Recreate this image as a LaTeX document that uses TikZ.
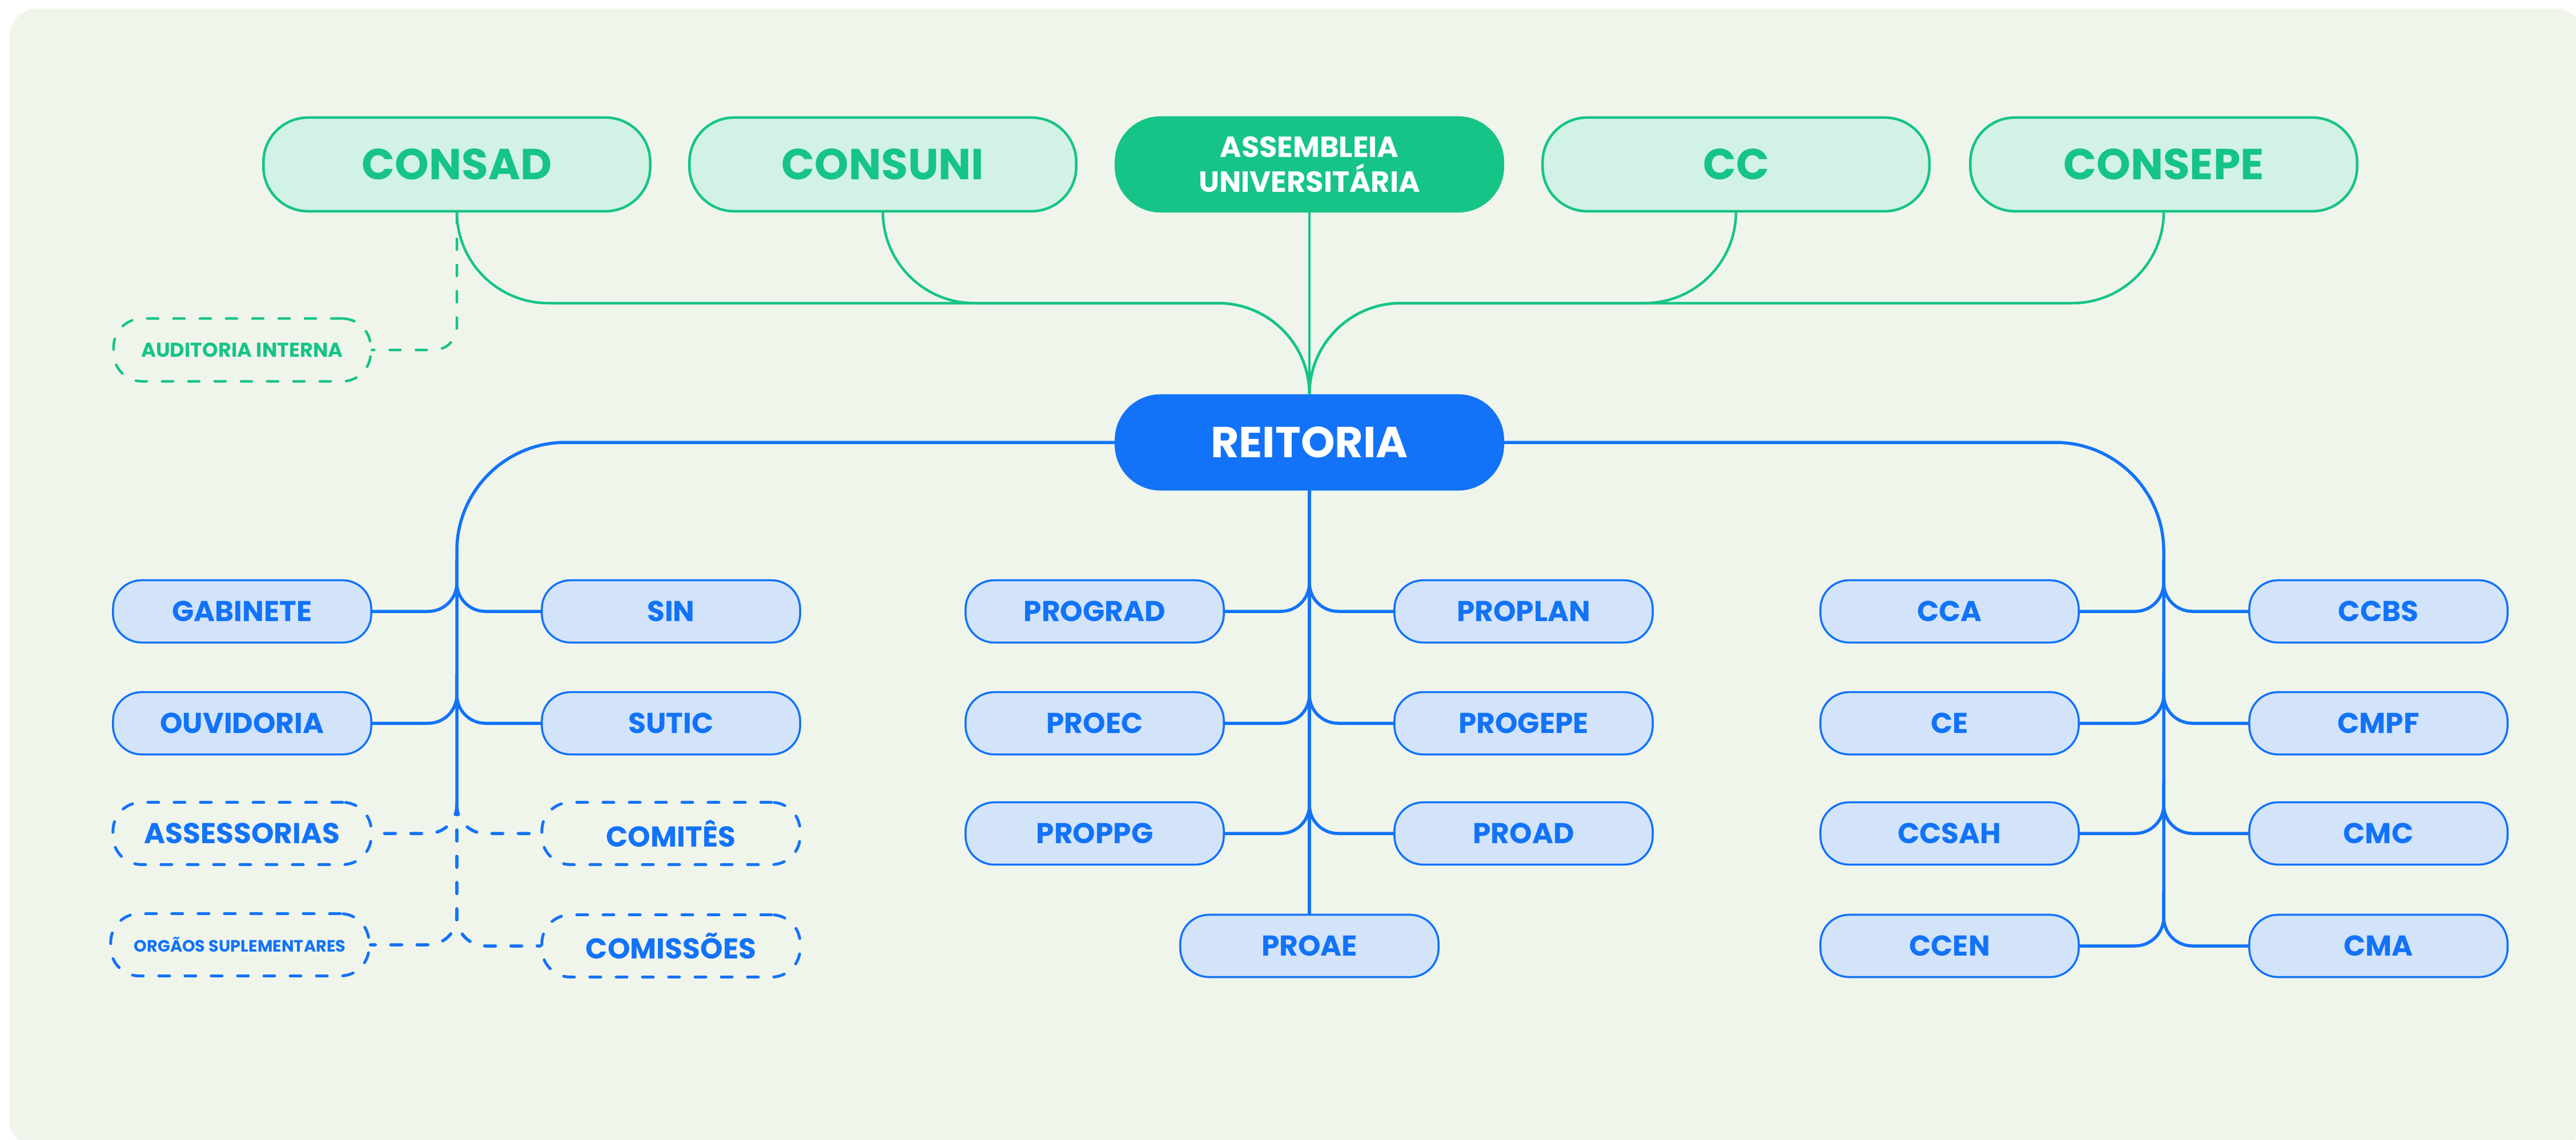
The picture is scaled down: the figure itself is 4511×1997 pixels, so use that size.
\documentclass[tikz,border=0pt]{standalone}
\usepackage{fontspec}
\setmainfont{Poppins}
\definecolor{bgc}{HTML}{F0F5EC}
\definecolor{gmain}{HTML}{16C487}
\definecolor{glight}{HTML}{D1F2E5}
\definecolor{bmain}{HTML}{1273F8}
\definecolor{blight}{HTML}{D2E3FA}
\tikzset{
  topbox/.style={draw=gmain, line width=0.045cm, fill=glight, text=gmain,
    minimum width=6.77cm, minimum height=1.64cm, rounded corners=0.78cm, inner sep=0pt,
    font=\bfseries\fontsize{21.6}{26}\selectfont},
  bbox/.style={draw=bmain, line width=0.035cm, fill=blight, text=bmain,
    minimum width=4.52cm, minimum height=1.09cm, rounded corners=0.5cm, inner sep=0pt,
    font=\bfseries\fontsize{14.3}{17}\selectfont},
  dashpat/.style={dash pattern=on 0.19cm off 0.27cm, line cap=round},
  bdbox/.style={bbox, fill=none, dashpat, line width=0.05cm},
  gline/.style={draw=gmain, line width=0.045cm},
  bline/.style={draw=bmain, line width=0.055cm},
}
\begin{document}
\begin{tikzpicture}[x=0.01cm, y=-0.01cm]
\useasboundingbox (0,0) rectangle (4511,1997);
\fill[white] (0,0) rectangle (4511,1997);
\fill[bgc, rounded corners=0.5cm] (16,15) rectangle (4525,2010);

% top row
\node[topbox] (consad) at (800,288) {CONSAD};
\node[topbox] (consuni) at (1546,288) {CONSUNI};
\node[topbox, fill=gmain, text=white, font=\bfseries\fontsize{14.5}{17.4}\selectfont, align=center] (assem) at (2293,288) {ASSEMBLEIA\\UNIVERSITÁRIA};
\node[topbox] (cc) at (3040,288) {CC};
\node[topbox] (consepe) at (3789,288) {CONSEPE};
\node[topbox, draw=bmain, fill=bmain, text=white] (reit) at (2293,775) {REITORIA};
\node[topbox, fill=none, dashpat, minimum width=4.5cm, minimum height=1.1cm, rounded corners=0.5cm, font=\bfseries\fontsize{10}{12}\selectfont] (audit) at (424,613) {AUDITORIA INTERNA};

\coordinate (hl) at (2293,531);
% green connectors
\draw[gline, rounded corners=1.6cm] (consad.south) |- (hl) -- (reit.north);
\draw[gline, rounded corners=1.6cm] (consuni.south) |- (hl) -- (reit.north);
\draw[gline, rounded corners=1.6cm] (cc.south) |- (hl) -- (reit.north);
\draw[gline, rounded corners=1.6cm] (consepe.south) |- (hl) -- (reit.north);
\draw[gline] (assem.south) -- (reit.north);
\draw[gline, dashpat, rounded corners=0.4cm] (consad.south) |- (audit.east);

% left group
\node[bbox] (gab) at (424,1071) {GABINETE};
\node[bbox] (sin) at (1175,1071) {SIN};
\node[bbox] (ouv) at (424,1267) {OUVIDORIA};
\node[bbox] (sutic) at (1175,1267) {SUTIC};
\node[bdbox] (assess) at (424,1460) {ASSESSORIAS};
\node[bdbox] (comites) at (1175,1460) {COMITÊS};
\node[bdbox, font=\bfseries\fontsize{8.2}{10}\selectfont] (orgaos) at (420,1655) {ORGÃOS SUPLEMENTARES};
\node[bdbox] (comissoes) at (1175,1657) {COMISSÕES};

% middle group
\node[bbox] (prograd) at (1917,1071) {PROGRAD};
\node[bbox] (proplan) at (2668,1071) {PROPLAN};
\node[bbox] (proec) at (1917,1267) {PROEC};
\node[bbox] (progepe) at (2668,1267) {PROGEPE};
\node[bbox] (proppg) at (1917,1460) {PROPPG};
\node[bbox] (proad) at (2668,1460) {PROAD};
\node[bbox] (proae) at (2293,1657) {PROAE};

% right group
\node[bbox] (cca) at (3414,1071) {CCA};
\node[bbox] (ccbs) at (4165,1071) {CCBS};
\node[bbox] (ce) at (3414,1267) {CE};
\node[bbox] (cmpf) at (4165,1267) {CMPF};
\node[bbox] (ccsah) at (3414,1460) {CCSAH};
\node[bbox] (cmc) at (4165,1460) {CMC};
\node[bbox] (ccen) at (3414,1657) {CCEN};
\node[bbox] (cma) at (4165,1657) {CMA};

% trunk coordinates
\coordinate (tl) at (800,1408);
\coordinate (tr) at (3789,1607);

% blue connectors
\draw[bline, rounded corners=1.9cm] (reit.west) -| (tl);
\draw[bline, rounded corners=1.9cm] (reit.east) -| (tr);
\draw[bline] (reit.south) -- (proae.north);

\foreach \n in {gab,sin}{\draw[bline, rounded corners=0.5cm] (800,980) |- (\n);}
\foreach \n in {ouv,sutic}{\draw[bline, rounded corners=0.5cm] (800,1180) |- (\n);}
\draw[bline, dashpat, rounded corners=0.5cm] (tl) |- (assess.east);
\draw[bline, dashpat, rounded corners=0.5cm] (tl) |- (comites.west);
\draw[bline, dashpat, rounded corners=0.5cm] (tl) |- (orgaos.east);
\draw[bline, dashpat, rounded corners=0.5cm] (tl) |- (comissoes.west);

\foreach \n in {prograd,proplan}{\draw[bline, rounded corners=0.5cm] (2293,980) |- (\n);}
\foreach \n in {proec,progepe}{\draw[bline, rounded corners=0.5cm] (2293,1180) |- (\n);}
\foreach \n in {proppg,proad}{\draw[bline, rounded corners=0.5cm] (2293,1370) |- (\n);}

\foreach \n in {cca,ccbs}{\draw[bline, rounded corners=0.5cm] (3789,980) |- (\n);}
\foreach \n in {ce,cmpf}{\draw[bline, rounded corners=0.5cm] (3789,1180) |- (\n);}
\foreach \n in {ccsah,cmc}{\draw[bline, rounded corners=0.5cm] (3789,1370) |- (\n);}
\foreach \n in {ccen,cma}{\draw[bline, rounded corners=0.5cm] (3789,1560) |- (\n);}
\end{tikzpicture}
\end{document}
